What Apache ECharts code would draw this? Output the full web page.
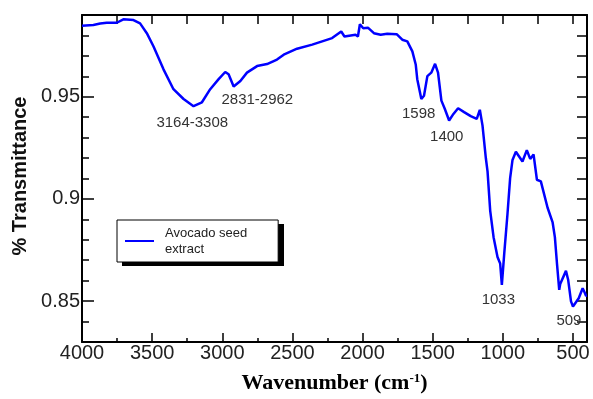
<!DOCTYPE html>
<html>
<head>
<meta charset="utf-8">
<script src="https://cdn.jsdelivr.net/npm/echarts@6/dist/echarts.min.js"></script>
<style>
html,body{margin:0;padding:0;background:#fff;}
#chart{width:593px;height:399px;}
</style>
</head>
<body>
<div id="chart"></div>
<script>
// ---- data ----
const wavenumber = [4000,3919,3870,3824,3752,3705,3633,3586,3538,3490,3419,3348,3276,3205,3145,3086,3026,2979,2955,2919,2871,2824,2752,2681,2610,2562,2467,2359,2288,2217,2205,2152,2129,2050,2033,2019,1995,1962,1919,1871,1824,1757,1717,1681,1645,1621,1610,1581,1562,1538,1510,1483,1462,1438,1414,1383,1352,1319,1276,1229,1186,1164,1145,1121,1109,1090,1066,1038,1019,1007,990,967,948,931,907,895,860,829,805,781,757,729,681,645,629,614,598,591,550,534,514,500,486,459,431,415,407,400];
const transmittance = [0.9848,0.9851,0.9858,0.9862,0.9862,0.9879,0.9875,0.9859,0.9811,0.9746,0.9634,0.9537,0.9489,0.9454,0.9473,0.9537,0.9586,0.9621,0.9610,0.9550,0.9577,0.9618,0.9650,0.9660,0.9682,0.9706,0.9735,0.9755,0.9771,0.9787,0.9781,0.9819,0.9795,0.9803,0.9795,0.9855,0.9835,0.9838,0.9811,0.9803,0.9808,0.9806,0.9779,0.9771,0.9722,0.9658,0.9586,0.9489,0.9505,0.9601,0.9618,0.9661,0.9618,0.9481,0.9441,0.9384,0.9416,0.9444,0.9425,0.9405,0.9392,0.9436,0.9360,0.9199,0.9135,0.8942,0.8813,0.8716,0.8684,0.8579,0.8732,0.8925,0.9102,0.9191,0.9231,0.9234,0.9183,0.9239,0.9196,0.9218,0.9094,0.9086,0.8957,0.8885,0.8813,0.8684,0.8555,0.8584,0.8648,0.8603,0.8499,0.8474,0.8478,0.8514,0.8563,0.8540,0.8526,0.8527];
const seriesName = 'Avocado seed\nextract';

const xTickLabels = [4000,3500,3000,2500,2000,1500,1000,500];
const xMinorTicks = [3750,3250,2750,2250,1750,1250,750];
const xTopTicks = [3750,3500,3250,3000,2750,2500,2250,2000,1750,1500,1250,1000,750,500];
const yTickLabels = [0.85,0.9,0.95];
const yMinorTicks = [0.84,0.86,0.87,0.88,0.89,0.91,0.92,0.93,0.94,0.96,0.97,0.98];
const yRightTicks = [0.84,0.85,0.86,0.87,0.88,0.89,0.9,0.91,0.92,0.93,0.94,0.95,0.96,0.97,0.98];

const annotLabels = ['3164-3308','2831-2962','1598','1400','1033','509'];
const annotX = [3214,2750,1600,1400,1032,529];
const annotY = [0.9373,0.9484,0.9416,0.9305,0.8508,0.8401];

// ---- chart ----
const chart = echarts.init(document.getElementById('chart'), null, {renderer:'canvas'});
const axisLineStyle = {color:'#000', width:2};
const tickLineStyle = {color:'#000', width:1.5};
const X_MIN = 400, X_MAX = 4000, Y_MIN = 0.83, Y_MAX = 0.99;

function xAxisBase(extra){
  return Object.assign({
    type:'value', inverse:true, min:X_MIN, max:X_MAX,
    splitLine:{show:false},
    axisLine:{show:false, onZero:false},
    axisLabel:{show:false},
    axisTick:{show:false}
  }, extra);
}
function yAxisBase(extra){
  return Object.assign({
    type:'value', min:Y_MIN, max:Y_MAX,
    splitLine:{show:false},
    axisLine:{show:false, onZero:false},
    axisLabel:{show:false},
    axisTick:{show:false}
  }, extra);
}

const option = {
  animation:false,
  backgroundColor:'#fff',
  grid:{left:82, right:6, top:15, bottom:53, containLabel:false},
  graphic:[{
    // legend drop shadow
    type:'rect', z:1, left:122, top:224,
    shape:{width:162, height:42},
    style:{fill:'#000'}
  }],
  legend:{
    data:[{name:seriesName, icon:'rect'}],
    left:117, top:220, z:10,
    orient:'vertical',
    padding:[5,31,5,8],
    itemWidth:29, itemHeight:2,
    backgroundColor:'#fff',
    borderColor:'#000', borderWidth:1,
    textStyle:{fontFamily:'Liberation Sans', fontSize:13, lineHeight:16, color:'#222', padding:[0,0,0,6]}
  },
  xAxis:[
    xAxisBase({
      position:'bottom',
      axisLine:{show:true, onZero:false, lineStyle:axisLineStyle},
      axisTick:{show:true, inside:true, length:9, lineStyle:tickLineStyle, customValues:xTickLabels},
      axisLabel:{show:true, customValues:xTickLabels, formatter:v=>String(v), margin:1, fontFamily:'Liberation Sans', fontSize:20, color:'#222'},
      name:'Wavenumber (cm{sup|-1})',
      nameLocation:'middle', nameGap:30,
      nameTextStyle:{
        fontFamily:'Liberation Serif', fontWeight:'bold', fontSize:22, color:'#000',
        rich:{sup:{fontFamily:'Liberation Serif', fontWeight:'bold', fontSize:13, color:'#000', verticalAlign:'top', padding:[0,0,9,0]}}
      }
    }),
    xAxisBase({
      position:'bottom',
      axisTick:{show:true, inside:true, length:4, lineStyle:tickLineStyle, customValues:xMinorTicks}
    }),
    xAxisBase({
      position:'top',
      axisLine:{show:true, onZero:false, lineStyle:axisLineStyle},
      axisTick:{show:true, inside:true, length:9, lineStyle:tickLineStyle, customValues:xTopTicks}
    })
  ],
  yAxis:[
    yAxisBase({
      position:'left',
      axisLine:{show:true, onZero:false, lineStyle:axisLineStyle},
      axisTick:{show:true, inside:true, length:12, lineStyle:tickLineStyle, customValues:yTickLabels},
      axisLabel:{show:true, customValues:yTickLabels, formatter:v=>String(v), margin:2, fontFamily:'Liberation Sans', fontSize:20, color:'#222'},
      name:'% Transmittance',
      nameLocation:'middle', nameGap:52,
      nameTextStyle:{fontFamily:'Liberation Sans', fontWeight:'bold', fontSize:20, color:'#111', padding:[0,0,0,5]}
    }),
    yAxisBase({
      position:'left',
      axisTick:{show:true, inside:true, length:7, lineStyle:tickLineStyle, customValues:yMinorTicks}
    }),
    yAxisBase({
      position:'right',
      axisLine:{show:true, onZero:false, lineStyle:axisLineStyle},
      axisTick:{show:true, inside:true, length:10, lineStyle:tickLineStyle, customValues:yRightTicks}
    })
  ],
  series:[{
    name:seriesName,
    type:'line',
    xAxisIndex:0, yAxisIndex:0,
    data:wavenumber.map((w,i)=>[w, transmittance[i]]),
    symbol:'none', showSymbol:false,
    smooth:false,
    lineStyle:{color:'#0000ff', width:2.5},
    itemStyle:{color:'#0000ff'},
    markPoint:{
      symbol:'rect', symbolSize:1,
      itemStyle:{color:'rgba(0,0,0,0)'},
      label:{show:true, position:'inside', formatter:p=>p.name, fontFamily:'Liberation Sans', fontSize:15, color:'#333'},
      data:annotLabels.map((t,i)=>({name:t, coord:[annotX[i], annotY[i]]}))
    }
  }]
};
chart.setOption(option);
</script>
</body>
</html>
